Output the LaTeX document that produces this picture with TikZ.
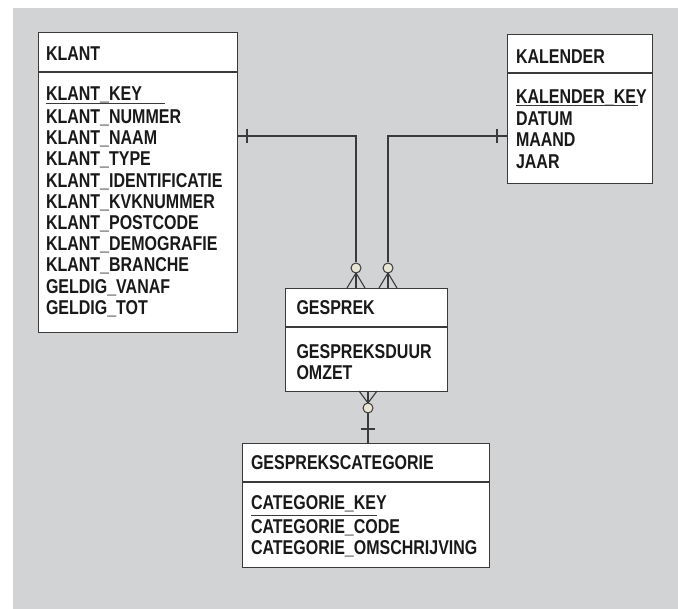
\documentclass[tikz,border=0pt]{standalone}
\usepackage{fontspec}
\setmainfont{Liberation Sans}[FakeStretch=0.80,BoldFont={Liberation Sans Bold}]
\usetikzlibrary{calc}
\definecolor{bgray}{HTML}{D1D3D4}
\definecolor{linec}{HTML}{3A3A3A}
\definecolor{circfill}{HTML}{EAE4D4}
\newcommand{\erfont}{\fontsize{20}{24}\bfseries\selectfont}
\begin{document}
\begin{tikzpicture}[x=1pt,y=-1pt,
  ebox/.style={draw=linec, fill=white, line width=1.3pt, inner sep=0, anchor=north west, rectangle},
  etxt/.style={anchor=base west, inner sep=0, outer sep=0, font=\erfont, text=black!90},
  conn/.style={draw=linec, line width=1.1pt},
  divl/.style={draw=linec, line width=1.3pt},
  optc/.style={circle, draw=linec, fill=circfill, line width=1pt, minimum size=10pt, inner sep=0}]
\useasboundingbox (0,0) rectangle (678,609);
\fill[bgray] (13,8) rectangle (678,609);

% KLANT
\node[ebox, minimum width=199pt, minimum height=300pt] (klant) at (38,32) {};
\draw[divl] (38,72) -- (237,72);
\node[etxt] (klantT) at (46,60.5) {KLANT};
\node[etxt] (k1) at (46,101) {KLANT\_KEY};
\draw[linec, line width=1pt] (46,104) -- (165,104);
\node[etxt] (k2) at (46,123.5) {KLANT\_NUMMER};
\node[etxt] (k3) at (46,144.7) {KLANT\_NAAM};
\node[etxt] (k4) at (46,165.9) {KLANT\_TYPE};
\node[etxt] (k5) at (46,187.1) {KLANT\_IDENTIFICATIE};
\node[etxt] (k6) at (46,208.3) {KLANT\_KVKNUMMER};
\node[etxt] (k7) at (46,229.5) {KLANT\_POSTCODE};
\node[etxt] (k8) at (46,250.7) {KLANT\_DEMOGRAFIE};
\node[etxt] (k9) at (46,271.9) {KLANT\_BRANCHE};
\node[etxt] (k10) at (46,293.1) {GELDIG\_VANAF};
\node[etxt] (k11) at (46,314.3) {GELDIG\_TOT};

% KALENDER
\node[ebox, minimum width=145pt, minimum height=149pt] (kal) at (507,34) {};
\draw[divl] (507,73) -- (652,73);
\node[etxt] (kalT) at (516,63.5) {KALENDER};
\node[etxt] (c1) at (516,103.3) {KALENDER\_KEY};
\draw[linec, line width=1pt] (516,106) -- (638,106);
\node[etxt] (c2) at (516,125.7) {DATUM};
\node[etxt] (c3) at (516,146.9) {MAAND};
\node[etxt] (c4) at (516,168.1) {JAAR};

% GESPREK
\node[ebox, minimum width=162pt, minimum height=103pt] (gesp) at (285,288) {};
\draw[divl] (285,327) -- (447,327);
\node[etxt] (gespT) at (296.5,315) {GESPREK};
\node[etxt] (g1) at (296.5,359) {GESPREKSDUUR};
\node[etxt] (g2) at (296.5,379.5) {OMZET};

% GESPREKSCATEGORIE
\node[ebox, minimum width=247pt, minimum height=124pt] (cat) at (242,443) {};
\draw[divl] (242,482) -- (489,482);
\node[etxt] (catT) at (251,470) {GESPREKSCATEGORIE};
\node[etxt] (t1) at (251,510) {CATEGORIE\_KEY};
\draw[linec, line width=1pt] (251,516) -- (377,516);
\node[etxt] (t2) at (251,533.5) {CATEGORIE\_CODE};
\node[etxt] (t3) at (251,554.5) {CATEGORIE\_OMSCHRIJVING};

% connector KLANT - GESPREK
\coordinate (kA) at (klant.east |- 0,136);
\coordinate (kB) at (356,136);
\node[optc] (o1) at (356,268) {};
\draw[conn] (kA) -- (kB) -- (o1.north);
\draw[conn] (247,129) -- (247,143);
\coordinate (f1) at (356,288);
\draw[conn] (o1.south) -- (f1);
\draw[conn] (356,273) -- (347,288);
\draw[conn] (356,273) -- (365,288);

% connector KALENDER - GESPREK
\coordinate (cA) at (kal.west |- 0,136);
\coordinate (cB) at (388,136);
\node[optc] (o2) at (388,268) {};
\draw[conn] (cA) -- (cB) -- (o2.north);
\draw[conn] (497,129) -- (497,143);
\coordinate (f2) at (388,288);
\draw[conn] (o2.south) -- (f2);
\draw[conn] (388,273) -- (379,288);
\draw[conn] (388,273) -- (397,288);

% connector GESPREK - GESPREKSCATEGORIE
\node[optc] (o3) at (368,408) {};
\coordinate (f3) at (368,391);
\draw[conn] (f3) -- (o3.north);
\draw[conn] (359,391) -- (368,403);
\draw[conn] (377,391) -- (368,403);
\coordinate (cT) at (cat.north -| 368,0);
\draw[conn] (o3.south) -- (cT);
\draw[conn] (361,429) -- (375,429);
\end{tikzpicture}
\end{document}
